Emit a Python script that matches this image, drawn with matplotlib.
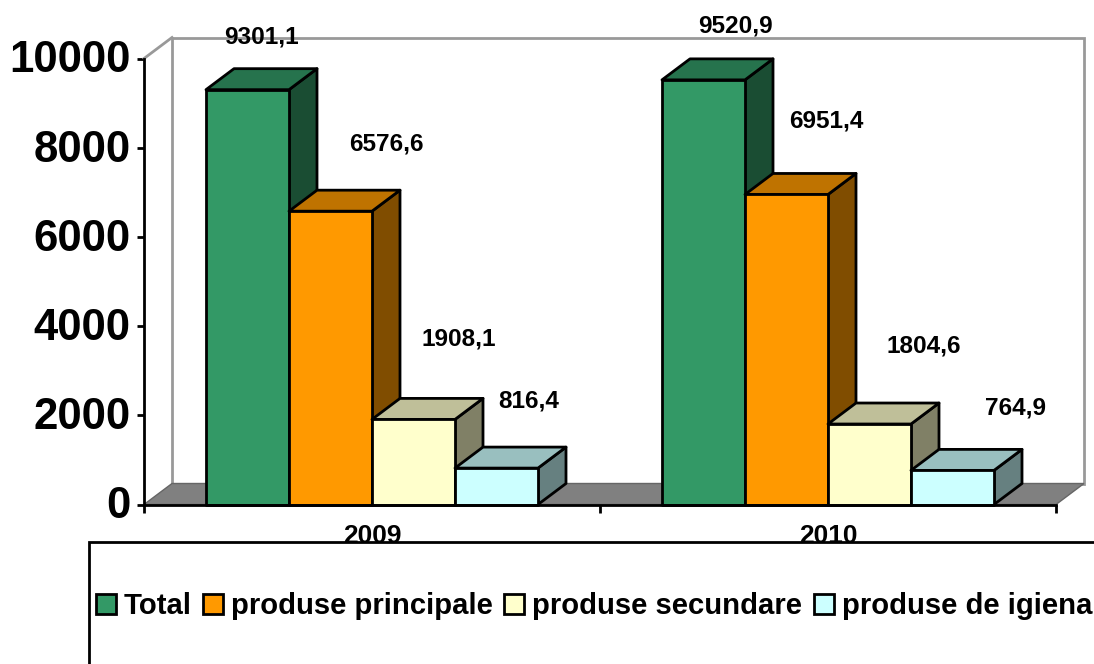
import matplotlib
matplotlib.use("Agg")
import matplotlib.pyplot as plt
from matplotlib.patches import Polygon, Rectangle, Patch
from matplotlib.ticker import FixedLocator, NullFormatter
from matplotlib.transforms import ScaledTranslation

years = ["2009", "2010"]
series_names = ["Total", "produse principale", "produse secundare", "produse de igiena"]
total = [9301.1, 9520.9]
principale = [6576.6, 6951.4]
secundare = [1908.1, 1804.6]
igiena = [816.4, 764.9]
series_colors = ["#339966", "#FF9900", "#FFFFCC", "#CCFFFF"]
y_ticks = [0, 2000, 4000, 6000, 8000, 10000]

# label offsets from the middle of each bar top, in pixels (one row per year)
label_offsets = [
    [(14, 53), (56, 67), (45, 80), (32, 67)],
    [(32, 54), (40, 73), (54, 78), (63, 62)],
]

W, H = 1094, 664
BAR_W = 83 / 456
DEPTH_X = 28 / 456      # depth of the 3d box, in data units
DEPTH_Y = 21 / 446 * 10000
LW = 2.0


def darken(color, f):
    r, g, b = matplotlib.colors.to_rgb(color)
    return (r * f, g * f, b * f)


def draw_bar(ax, x, value, color):
    dx, dy = DEPTH_X, DEPTH_Y
    side = [(x + BAR_W, 0), (x + BAR_W + dx, dy), (x + BAR_W + dx, value + dy), (x + BAR_W, value)]
    top = [(x, value), (x + dx, value + dy), (x + BAR_W + dx, value + dy), (x + BAR_W, value)]
    front = [(x, 0), (x, value), (x + BAR_W, value), (x + BAR_W, 0)]
    for pts, c in [(side, darken(color, 0.5)), (top, darken(color, 0.75)), (front, color)]:
        ax.add_patch(Polygon(pts, closed=True, facecolor=c, edgecolor="black",
                             linewidth=LW, joinstyle="round", clip_on=False))


plt.rcParams["font.family"] = ["Liberation Sans", "DejaVu Sans"]
plt.rcParams["font.weight"] = "bold"

fig = plt.figure(figsize=(W / 100, H / 100), dpi=100)
ax = fig.add_axes([144 / W, (H - 504.5) / H, 912 / W, 446 / H])
ax.set_xlim(0, 2)
ax.set_ylim(0, 10000)

# back wall and floor
wall = [(DEPTH_X, DEPTH_Y), (DEPTH_X, 10000 + DEPTH_Y), (2 + DEPTH_X, 10000 + DEPTH_Y), (2 + DEPTH_X, DEPTH_Y)]
ax.add_patch(Polygon(wall, closed=True, facecolor="white", edgecolor="#999999", linewidth=LW, clip_on=False))
ax.plot([0, DEPTH_X], [10000, 10000 + DEPTH_Y], color="#999999", linewidth=LW, clip_on=False)
floor = [(0, 0), (DEPTH_X, DEPTH_Y), (2 + DEPTH_X, DEPTH_Y), (2, 0)]
ax.add_patch(Polygon(floor, closed=True, facecolor="#808080", edgecolor="#666666", linewidth=1, clip_on=False))

values = [total, principale, secundare, igiena]
for i in range(len(years)):
    start = i + 0.5 - 2 * BAR_W
    for j in range(len(values)):
        x = start + j * BAR_W
        draw_bar(ax, x, values[j][i], series_colors[j])
        ox, oy = label_offsets[i][j]
        ax.annotate(str(values[j][i]).replace(".", ","), (x + BAR_W / 2, values[j][i]),
                    xytext=(ox * 0.72, oy * 0.72), textcoords="offset points",
                    ha="center", va="center", fontsize=17.6, fontweight="bold",
                    annotation_clip=False, zorder=4)

for s in ["top", "right"]:
    ax.spines[s].set_visible(False)
for s in ["left", "bottom"]:
    ax.spines[s].set_linewidth(LW)
ax.patch.set_visible(False)

ax.set_yticks(y_ticks)
ax.tick_params(axis="y", length=5.2, width=LW, pad=4.5, labelsize=31.5)
# y labels sit a little above their ticks in the original
for label in ax.get_yticklabels():
    label.set_transform(label.get_transform() + ScaledTranslation(0, 1.5 / 72, fig.dpi_scale_trans))
ax.xaxis.set_major_locator(FixedLocator([0, 1, 2]))
ax.xaxis.set_major_formatter(NullFormatter())
ax.xaxis.set_minor_locator(FixedLocator([0.5, 1.5]))
ax.set_xticklabels(years, minor=True)
ax.tick_params(axis="x", which="major", length=5.5, width=LW)
ax.tick_params(axis="x", which="minor", length=0, pad=14, labelsize=19)

# legend box runs off the right and bottom of the picture and covers part of the year labels
ax.add_patch(Rectangle((88.5 / W, (H - 710) / H), 1100 / W, 168 / H, transform=fig.transFigure,
                       facecolor="white", edgecolor="black", linewidth=LW, clip_on=False, zorder=3))
handles = [Patch(facecolor=c, edgecolor="black", linewidth=LW) for c in series_colors]
ax.legend(handles, series_names, ncol=4, loc="center left", bbox_to_anchor=(96 / W, (H - 606) / H),
          bbox_transform=fig.transFigure, frameon=False, fontsize=21.1, handlelength=0.68,
          handleheight=0.68, handletextpad=0.27, columnspacing=0.39, borderpad=0, borderaxespad=0)

fig.savefig("out.png", dpi=100)
